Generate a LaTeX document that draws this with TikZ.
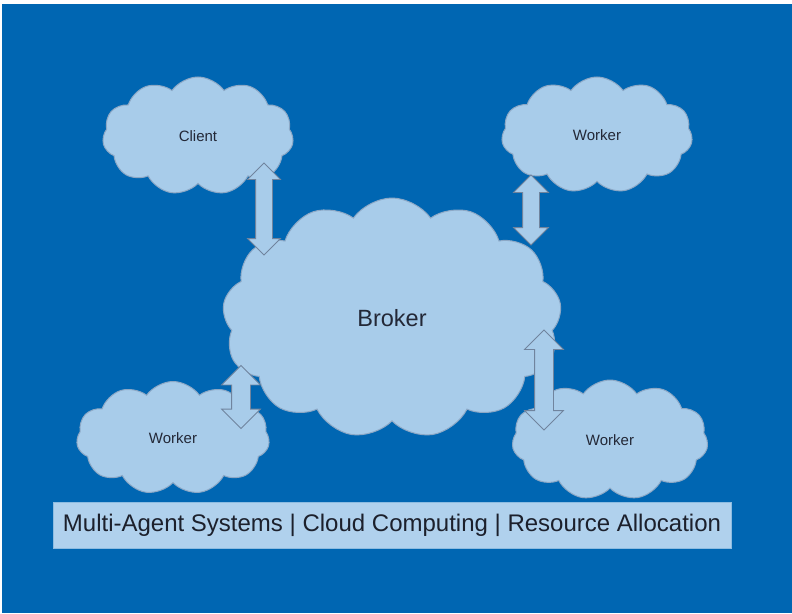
\documentclass[tikz,border=0pt]{standalone}
\usepackage{fontspec}
\setmainfont{Liberation Sans}
\usetikzlibrary{shapes.symbols, shapes.arrows, positioning}
\definecolor{slideblue}{RGB}{0, 102, 178}
\definecolor{cloudfill}{RGB}{168, 204, 234}
\definecolor{barfill}{RGB}{176, 209, 237}
\definecolor{cloudline}{RGB}{140, 168, 198}
\definecolor{arrowline}{RGB}{112, 132, 158}
\definecolor{inkdark}{RGB}{35, 40, 55}

\begin{document}
\begin{tikzpicture}[x=1pt, y=-1pt,
    cloudnode/.style={cloud, cloud puffs=11, cloud puff arc=110, cloud ignores aspect, draw=cloudline, fill=cloudfill, line width=1pt, inner sep=0pt, text=inkdark, font=\fontsize{15}{18}\selectfont},
    bigcloud/.style={cloudnode, cloud puffs=13, font=\fontsize{23.5}{28}\selectfont},
    linkarrow/.style={double arrow, rotate=90, draw=arrowline, fill=cloudfill, line width=0.8pt, inner xsep=0pt, inner ysep=8pt, double arrow head extend=8pt},
    widearrow/.style={linkarrow, inner ysep=9pt, double arrow head extend=10pt},
    tagbar/.style={rectangle, fill=barfill, draw=barfill!80!slideblue, line width=0.6pt, minimum width=678pt, minimum height=46pt, text=inkdark!80!black, font=\fontsize{24}{28}\selectfont}
]
\useasboundingbox (0, 0) rectangle (792, 613);

% ── Background ──
\fill[white] (0, 0) rectangle (792, 613);
\fill[slideblue] (2, 4) rectangle (792, 613);

% ── Clouds ──
\node[cloudnode, minimum width=191pt, minimum height=118pt] (client) at (198, 136) {Client};
\node[cloudnode, minimum width=191pt, minimum height=116pt] (workerA) at (597, 135) {Worker};
\node[bigcloud, minimum width=339pt, minimum height=240pt] (broker) at (392, 318) {Broker};
\node[cloudnode, minimum width=193pt, minimum height=113pt] (workerB) at (173, 438) {Worker};
\node[cloudnode, minimum width=196pt, minimum height=120pt] (workerC) at (610, 440) {Worker};

% ── Links ──
\node[linkarrow, minimum height=92pt] (linkA) at (264, 209) {};
\node[linkarrow, minimum height=70pt, double arrow head extend=9pt] (linkB) at (531, 210) {};
\node[widearrow, minimum height=63pt] (linkC) at (241, 397) {};
\node[widearrow, minimum height=100pt] (linkD) at (544, 380) {};

% ── Keywords ──
\node[tagbar] (tags) at (392, 525) {Multi-Agent Systems | Cloud Computing | Resource Allocation};

\end{tikzpicture}
\end{document}
